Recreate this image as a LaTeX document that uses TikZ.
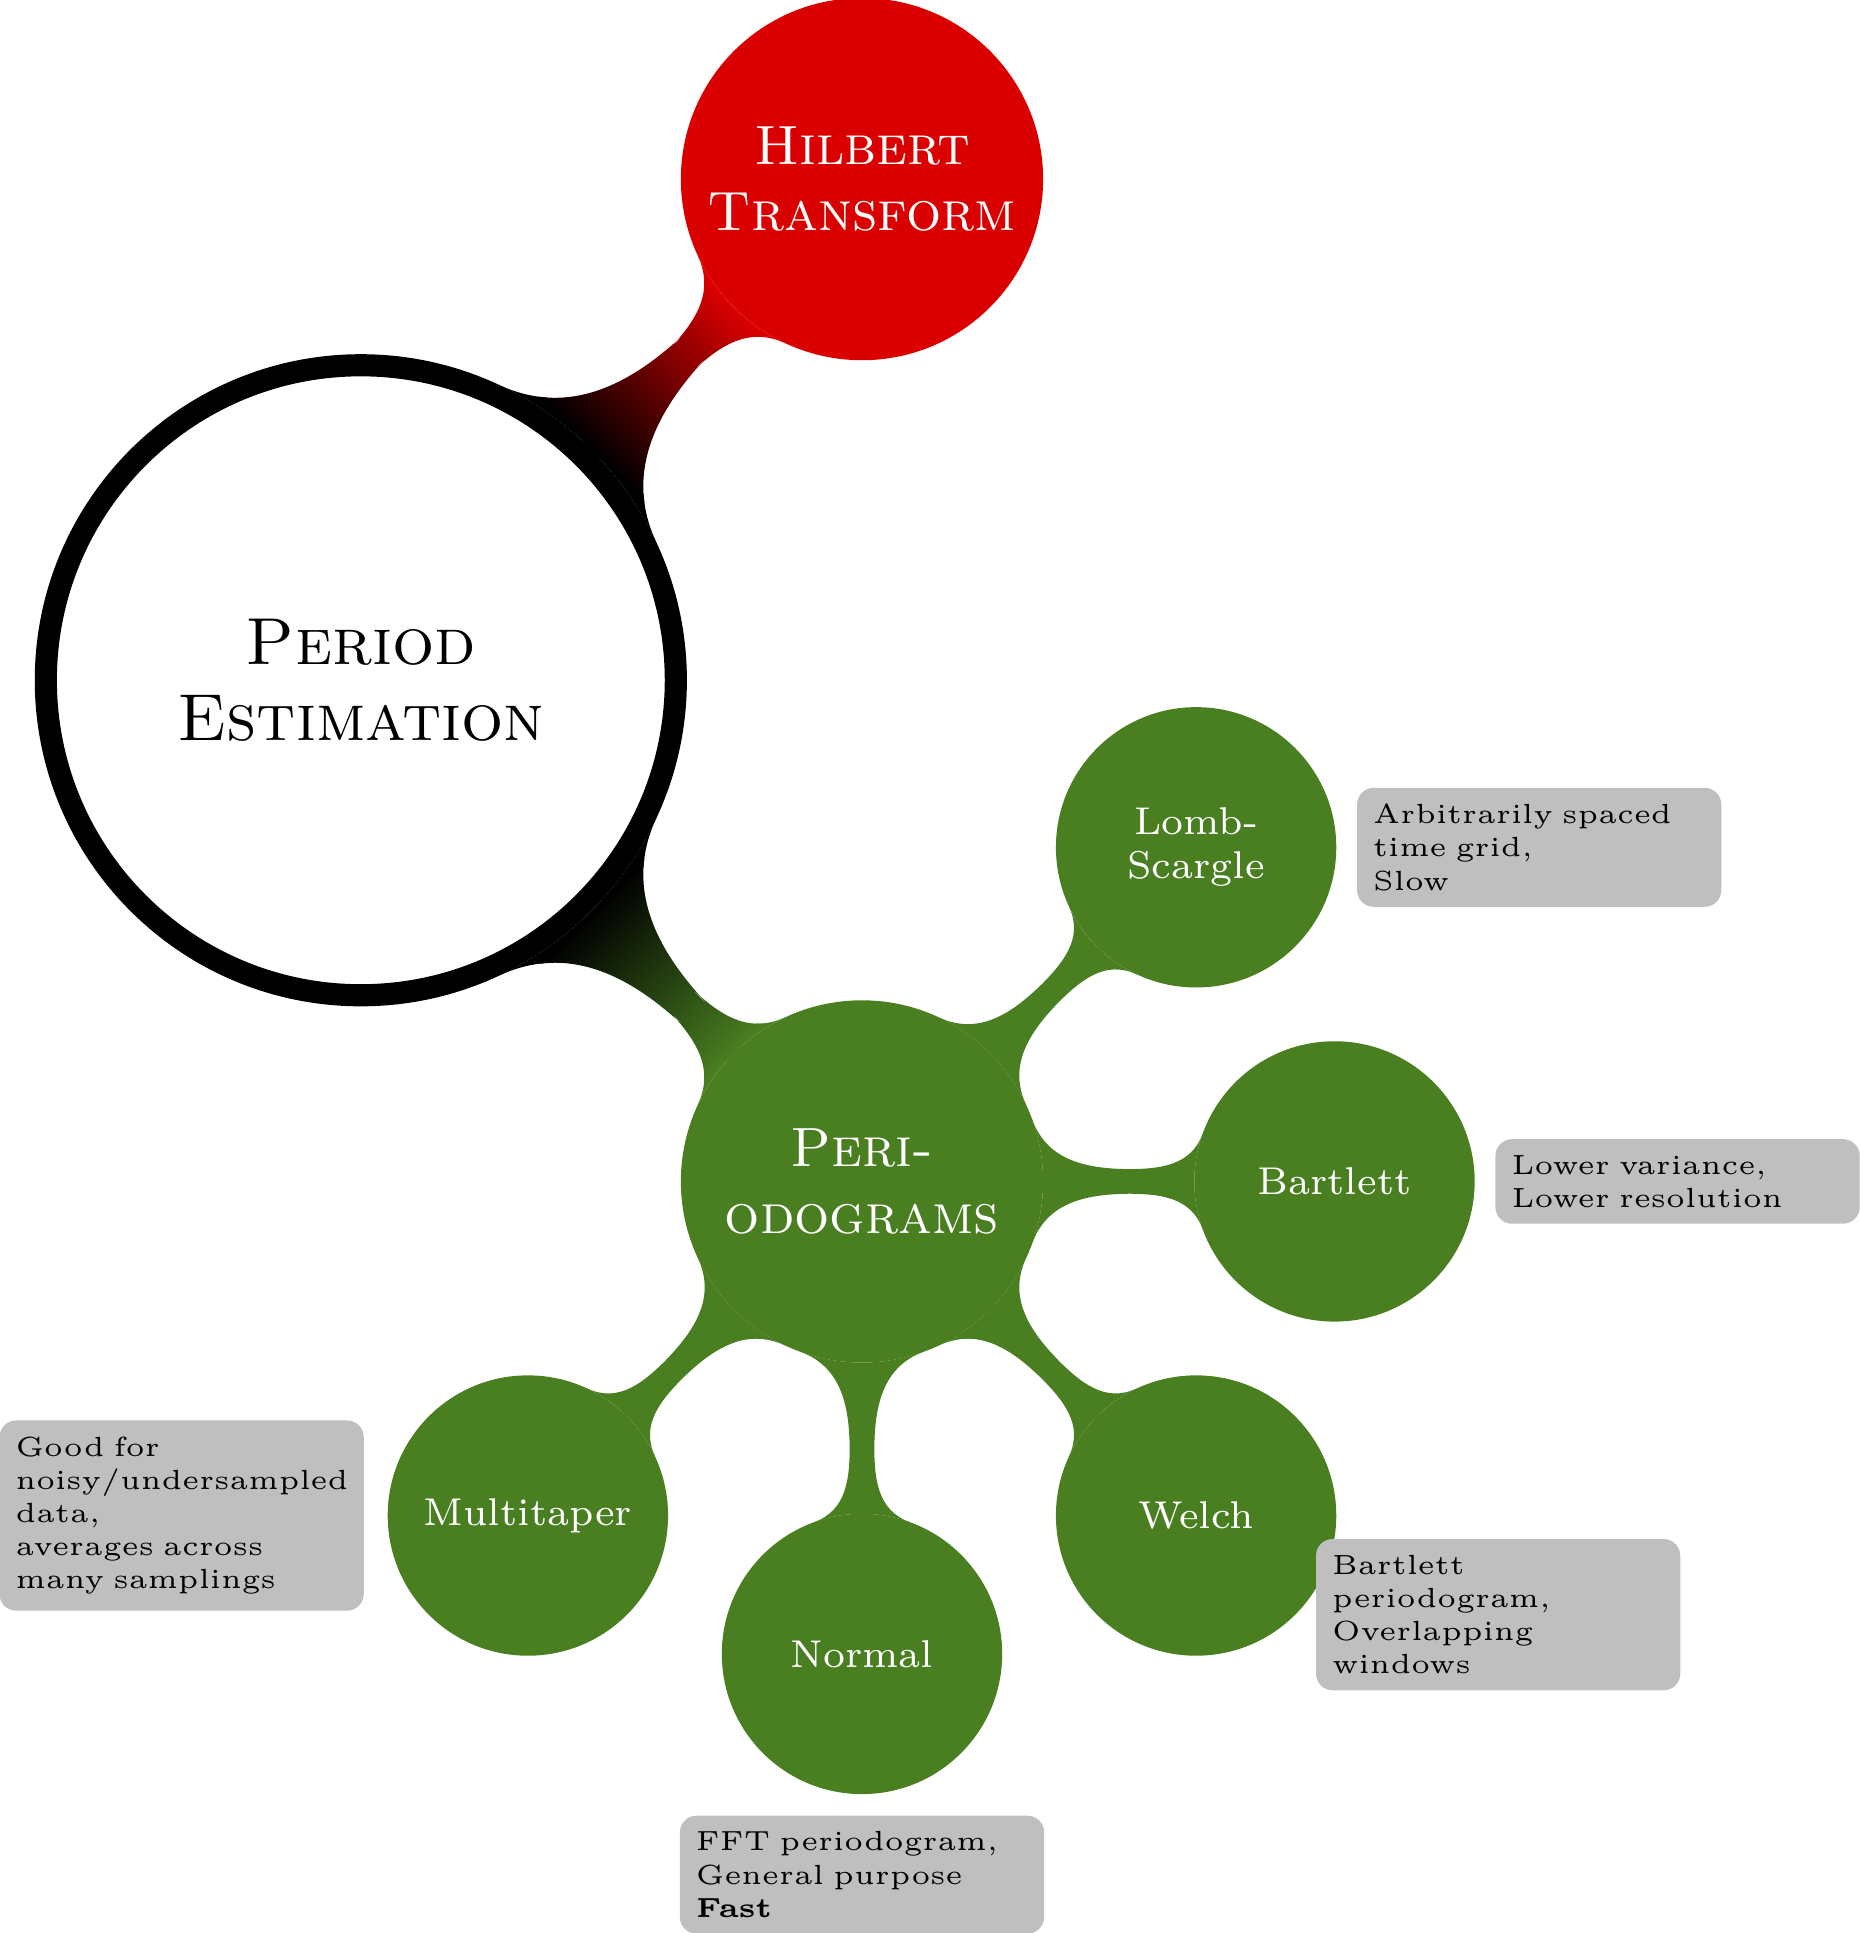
\documentclass[tikz,border=0pt]{standalone}
\usetikzlibrary{mindmap,calc}
\pgfdeclarelayer{background}
\pgfsetlayers{background,main}
\definecolor{hred}{rgb}{0.855,0,0}
\definecolor{pgreen}{RGB}{73,126,33}
\tikzset{
  rootnode/.style={circle, minimum size=4cm, inner sep=0pt, fill=white, draw=black,
    line width=4pt, text=black, align=center,
    font=\fontsize{12}{13.7}\selectfont\scshape},
  lvlone/.style={circle, minimum size=2.3cm-1.4pt, inner sep=0pt, text=white, align=center,
    line width=1.4pt, font=\fontsize{10}{12}\selectfont\scshape},
  lvltwo/.style={circle, minimum size=1.78cm-1.4pt, inner sep=0pt, text=white, align=center,
    fill=pgreen, draw=pgreen, line width=1.4pt, font=\fontsize{7}{8}\selectfont},
  annot/.style={rectangle, rounded corners=3pt, fill=black!25, text=black,
    text width=60pt, inner sep=2.9pt, align=left,
    font=\fontsize{5}{6}\selectfont},
  greenbar/.style={fill=pgreen, circle connection bar},
}
\begin{document}
\begin{tikzpicture}
\useasboundingbox (0,0) rectangle (11.8095,-12.2730);
\node[rootnode] (root) at (2.291,-4.319) {Period\\Estimation};
\node[lvlone, fill=hred, draw=hred] (hil) at ($(root)+(45:4.5cm)$) {Hilbert\\Transform};
\node[lvlone, fill=pgreen, draw=pgreen] (per) at ($(root)+(-45:4.5cm)$) {Peri-\\odograms};
\node[lvltwo] (lomb) at ($(per)+(45:3cm)$) {Lomb-\\Scargle};
\node[lvltwo] (bart) at ($(per)+(0:3cm)$) {Bartlett};
\node[lvltwo] (welch) at ($(per)+(-45:3cm)$) {Welch};
\node[lvltwo] (norm) at ($(per)+(-90:3cm)$) {Normal};
\node[lvltwo] (multi) at ($(per)+(-135:3cm)$) {Multitaper};
\begin{pgfonlayer}{background}
\path (root) to[circle connection bar switch color=from (black) to (hred)] (hil);
\path (root) to[circle connection bar switch color=from (black) to (pgreen)] (per);
\path[greenbar] (per) to (lomb);
\path[greenbar] (per) to (bart);
\path[greenbar] (per) to (welch);
\path[greenbar] (per) to (norm);
\path[greenbar] (per) to (multi);
\end{pgfonlayer}
\node[annot, anchor=west] (alomb) at ([xshift=0.125cm]lomb.east) {Arbitrarily spaced\\time grid,\\Slow};
\node[annot, anchor=west] (abart) at ([xshift=0.125cm]bart.east) {Lower variance,\\Lower resolution};
\node[annot, anchor=west] (awelch) at ([xshift=0.125cm]welch.south east) {Bartlett\\periodogram,\\Overlapping\\windows};
\node[annot, anchor=north] (anorm) at ([yshift=-0.13cm]norm.south) {FFT periodogram,\\General purpose\\\textbf{Fast}};
\node[annot, anchor=east] (amulti) at ([xshift=-0.145cm]multi.west) {Good for\\\mbox{noisy/undersampled}\\data,\\averages across\\many samplings};
\end{tikzpicture}
\end{document}
